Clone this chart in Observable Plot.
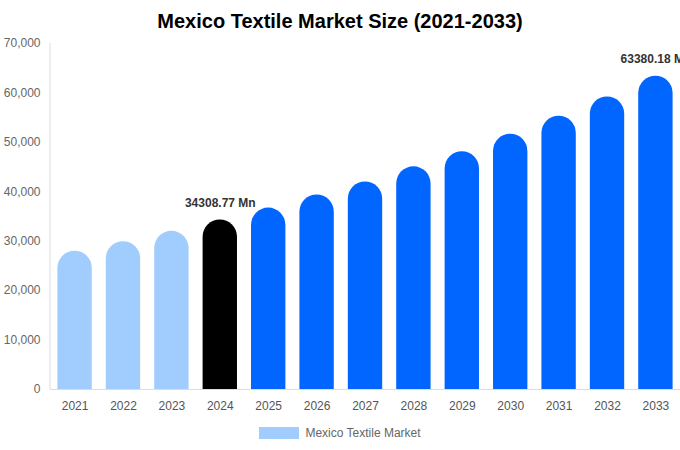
<!DOCTYPE html>
<html><head><meta charset="utf-8">
<script src="https://cdn.jsdelivr.net/npm/d3@7"></script>
<script src="https://cdn.jsdelivr.net/npm/@observablehq/plot@0.6"></script>
<style>
body{margin:0;background:#fff;font-family:"Liberation Sans",Arial,sans-serif;width:680px;overflow:hidden}
#title{height:36px;line-height:42px;text-align:center;font-weight:bold;font-size:20px;color:#000}
#legend{display:flex;justify-content:center;align-items:center;height:30px;font-size:12px;color:#666;margin-top:0px}
#legend .sw{width:40px;height:12px;background:#a0cdfd;margin-right:6px}
</style></head>
<body>
<div id="title">Mexico Textile Market Size (2021-2033)</div>
<div id="chart"></div>
<div id="legend"><span class="sw"></span><span>Mexico Textile Market</span></div>
<script>
const years = ["2021","2022","2023","2024","2025","2026","2027","2028","2029","2030","2031","2032","2033"];
const values = [27980, 29900, 32000, 34308.77, 36700, 39350, 42000, 45050, 48100, 51650, 55300, 59200, 63380.18];
const kinds = ["past","past","past","base","fc","fc","fc","fc","fc","fc","fc","fc","fc"];
const labeled = ["2024","2033"];
const yTicks = [0,10000,20000,30000,40000,50000,60000,70000];
const colors = {past:"#a0cdfd", base:"#000000", fc:"#0066ff"};

const data = years.map((y,i)=>({year:y, value:values[i], kind:kinds[i]}));
const labels = data.filter(d=>labeled.includes(d.year));

const axisLine = (index, scales, values, dims) => {
  const l = document.createElementNS("http://www.w3.org/2000/svg","line");
  l.setAttribute("x1", dims.marginLeft); l.setAttribute("x2", dims.marginLeft);
  l.setAttribute("y1", scales.y(70000)); l.setAttribute("y2", scales.y(0));
  l.setAttribute("stroke", "#dddddd");
  return l;
};

const chart = Plot.plot({
  width: 680, height: 382,
  marginTop: 7, marginBottom: 29, marginLeft: 50, marginRight: 0,
  style: {fontFamily: '"Liberation Sans", Arial, sans-serif', fontSize: "12px", overflow: "visible"},
  x: {domain: years, paddingInner: 0.29, paddingOuter: 0.153, round: false, label: null},
  y: {domain: [0,70000], label: null},
  marks: [
    axisLine,
    Plot.barY(data, {x: "year", y1: -5000, y2: "value", fill: d => colors[d.kind], rx: 17.2, clip: true}),
    Plot.ruleY([0], {stroke: "#dddddd"}),
    Plot.text(labels, {x: "year", y: "value", text: d => d.value.toFixed(2) + " Mn", dy: -17, fontWeight: "bold", fill: "#333", fontSize: 12}),
    Plot.axisY({ticks: yTicks, tickFormat: d3.format(","), tickSize: 0, tickPadding: 10, fill: "#666", fontSize: 12}),
    Plot.axisX({tickSize: 0, tickPadding: 12, fill: "#555", fontSize: 12})
  ]
});
document.getElementById("chart").appendChild(chart);
</script>
</body></html>
